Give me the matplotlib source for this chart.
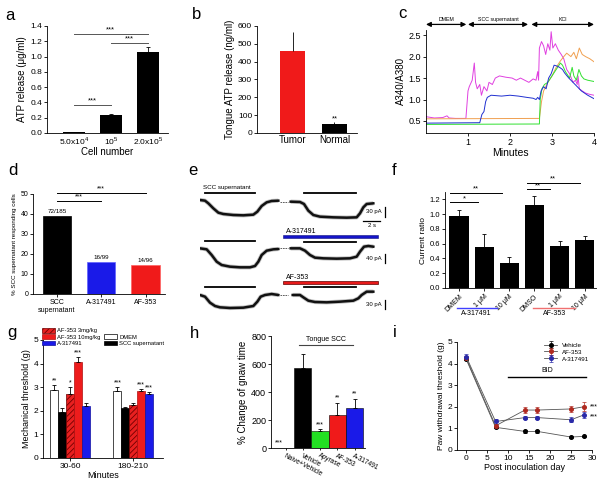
import matplotlib
matplotlib.use('Agg')
import matplotlib.pyplot as plt
from matplotlib.patches import Rectangle, Patch

plt.rcParams['font.family'] = ['Liberation Sans', 'DejaVu Sans']
plt.rcParams['mathtext.fontset'] = 'custom'
plt.rcParams['mathtext.rm'] = 'Liberation Sans'
plt.rcParams['hatch.linewidth'] = 0.6

# ---- a: ATP release vs cell number
a_labels = ['5.0x10$^{4}$', '10$^{5}$', '2.0x10$^{5}$']
a_vals = [0.01, 0.23, 1.06]
a_err = [0.005, 0.02, 0.06]

# ---- b: tongue ATP release
b_labels = ['Tumor', 'Normal']
b_vals = [462, 52]
b_err = [105, 8]

# ---- c: calcium imaging traces (minutes, A340/A380)
c_mag_t = [0, 0.2, 0.4, 0.5, 0.55, 0.7, 0.95, 1.0, 1.03, 1.1, 1.15, 1.18, 1.22, 1.28, 1.32, 1.38,
           1.45, 1.5, 1.58, 1.65, 1.75, 1.9, 2.05, 2.15, 2.25, 2.35, 2.45, 2.55, 2.62, 2.66, 2.68,
           2.7, 2.75, 2.8, 2.85, 2.9, 2.95, 2.98, 3.02, 3.08, 3.15, 3.22, 3.28, 3.35, 3.42, 3.5,
           3.56, 3.6, 3.62, 3.65, 3.72, 3.8, 3.9, 4.0]
c_mag_v = [0.6, 0.57, 0.58, 0.62, 0.57, 0.56, 0.56, 1.2, 1.3, 1.45, 1.85, 1.4, 1.25, 1.35, 1.1, 1.3,
           1.2, 1.4, 1.35, 1.5, 1.55, 1.52, 1.5, 1.45, 1.5, 1.45, 1.4, 1.48, 1.45, 1.65, 1.45,
           2.2, 2.35, 2.25, 2.05, 2.3, 2.15, 2.58, 2.2, 2.3, 2.15, 2.05, 1.95, 1.7, 1.6, 1.4,
           1.45, 1.35, 1.55, 1.25, 1.2, 1.15, 1.12, 1.1]
c_blu_t = [0, 1.28, 1.33, 1.38, 1.42, 1.46, 1.55, 1.8, 2.0, 2.2, 2.4, 2.55, 2.62, 2.66, 2.7, 2.74,
           2.8, 2.86, 2.92, 2.98, 3.05, 3.12, 3.18, 3.25, 3.3, 3.4, 3.55, 3.7, 3.85, 4.0]
c_blu_v = [0.45, 0.46, 0.65, 0.72, 0.95, 1.05, 1.1, 1.08, 1.1, 1.08, 1.05, 1.03, 1.0, 1.05, 1.0, 1.2,
           1.3, 1.25, 1.5, 1.6, 1.8, 1.78, 1.75, 1.7, 1.62, 1.5, 1.35, 1.2, 1.1, 1.02]
c_org_t = [0, 2.7, 2.75, 2.8, 2.9, 3.0, 3.1, 3.2, 3.28, 3.35, 3.45, 3.52, 3.58, 3.65, 3.72, 3.8, 3.9, 4.0]
c_org_v = [0.55, 0.56, 0.95, 1.2, 1.4, 1.55, 1.75, 1.9, 2.0, 2.08, 2.0, 2.1, 1.95, 2.2, 2.05, 2.0, 1.95, 1.88]
c_grn_t = [0, 2.7, 2.72, 2.76, 2.82, 2.9, 3.0, 3.1, 3.2, 3.25, 3.32, 3.42, 3.48, 3.52, 3.58, 3.64,
           3.7, 3.76, 3.85, 4.0]
c_grn_v = [0.42, 0.43, 1.0, 1.25, 1.35, 1.4, 1.55, 1.7, 1.85, 1.8, 1.65, 1.5, 1.75, 1.55, 1.45, 1.7,
           1.55, 1.48, 1.45, 1.42]
c_periods = [('DMEM', 0.0, 0.96), ('SCC supernatant', 1.0, 2.43), ('KCl', 2.51, 4.0)]

# ---- d: % responding cells
d_labels = ['SCC\nsupernatant', 'A-317491', 'AF-353']
d_vals = [38.9, 16.2, 14.6]
d_counts = ['72/185', '16/99', '14/96']

# ---- e: patch clamp traces (trace units, y downward)
e1_left_x = [0, 15, 25, 40, 55, 70, 100, 130, 160, 172, 185, 200, 215, 235]
e1_left_y = [60, 62, 70, 85, 98, 102, 105, 106, 104, 95, 78, 67, 63, 62]
e1_right_x = [272, 300, 312, 325, 340, 360, 400, 440, 470, 480, 490, 500, 520]
e1_right_y = [65, 66, 72, 92, 105, 110, 112, 113, 112, 100, 82, 72, 70]
e2_left_x = [0, 20, 35, 50, 65, 90, 120, 150, 165, 175, 185, 200, 220, 235]
e2_left_y = [205, 208, 225, 245, 255, 260, 262, 262, 258, 245, 225, 212, 208, 207]
e2_right_x = [272, 300, 315, 330, 345, 370, 410, 450, 470, 480, 492, 505, 520]
e2_right_y = [205, 205, 212, 225, 233, 235, 236, 235, 230, 215, 200, 198, 200]
e3_left_x = [0, 15, 30, 45, 60, 90, 130, 160, 172, 182, 195, 215, 235]
e3_left_y = [345, 350, 368, 378, 382, 384, 383, 378, 365, 350, 345, 342, 345]
e3_right_x = [278, 300, 310, 325, 345, 380, 420, 460, 475, 485, 500, 520]
e3_right_y = [345, 345, 352, 362, 366, 367, 365, 362, 355, 345, 335, 335]

# ---- f: current ratio
f_labels = ['DMEM', '1 μM', '10 μM', 'DMSO', '1 μM', '10 μM']
f_vals = [0.98, 0.56, 0.34, 1.13, 0.57, 0.65]
f_err = [0.08, 0.17, 0.08, 0.12, 0.07, 0.06]

# ---- g: mechanical threshold
g_groups = ['30-60', '180-210']
g_series = ['DMEM', 'SCC supernatant', 'AF-353 3mg/kg', 'AF-353 10mg/kg', 'A-317491']
g_vals = [[2.9, 2.85], [1.93, 2.12], [2.73, 2.23], [4.05, 2.82], [2.2, 2.7]]
g_err = [[0.2, 0.15], [0.2, 0.06], [0.27, 0.12], [0.25, 0.1], [0.12, 0.1]]
g_stars = [['**', '***'], ['', ''], ['*', ''], ['***', '***'], ['', '***']]

# ---- h: gnaw time
h_labels = ['Naive+Vehicle', 'Vehicle', 'Apyrase', 'AF-353', 'A-317491']
h_vals = [0, 575, 120, 238, 289]
h_err = [0, 100, 15, 85, 64]
h_stars = ['***', '', '***', '**', '**']

# ---- i: paw withdrawal threshold
i_days = [0, 7, 14, 17, 25, 28]
i_vehicle = [4.2, 1.05, 0.86, 0.86, 0.6, 0.63]
i_vehicle_err = [0.05, 0.05, 0.06, 0.05, 0.03, 0.04]
i_af353 = [4.25, 1.12, 1.85, 1.85, 1.9, 2.0]
i_af353_err = [0.1, 0.08, 0.12, 0.12, 0.15, 0.2]
i_a317 = [4.32, 1.32, 1.5, 1.5, 1.4, 1.62]
i_a317_err = [0.12, 0.12, 0.06, 0.06, 0.12, 0.15]

RED = '#f01a1a'
BLUE = '#1a1ae8'

fig = plt.figure(figsize=(6, 4.84), dpi=100)


def add_ax(l, t, r, b):
    return fig.add_axes([l / 600, 1 - b / 484, (r - l) / 600, (b - t) / 484])


def style(ax, fs=6):
    for s in ['top', 'right']:
        ax.spines[s].set_visible(False)
    for s in ['left', 'bottom']:
        ax.spines[s].set_linewidth(0.6)
    ax.tick_params(labelsize=fs, length=2, width=0.6, pad=1.5)


def sig(ax, x0, x1, y, text, fs=5, color='k', dy=0.0):
    ax.plot([x0, x1], [y, y], color=color, lw=0.7, clip_on=False)
    ax.text((x0 + x1) / 2, y + dy, text, ha='center', va='bottom', fontsize=fs, clip_on=False)


def up_err(ax, x, y, e, color='k', cap=1.5):
    ax.errorbar(x, y, yerr=[[0] * len(e), e], fmt='none', ecolor=color, elinewidth=0.6,
                capsize=cap, capthick=0.6)


for lab, x, y in [('a', 5, 20), ('b', 192, 19), ('c', 398, 18), ('d', 8, 175), ('e', 188, 175),
                  ('f', 392, 175), ('g', 7, 337), ('h', 190, 338), ('i', 393, 337)]:
    fig.text(x / 600, 1 - y / 484, lab, fontsize=12, va='baseline')

# a
ax = add_ax(47, 26, 168, 133)
xa = list(range(len(a_vals)))
ax.bar(xa, a_vals, width=0.6, color='k')
up_err(ax, xa, a_vals, a_err)
ax.set_xlim(-0.73, 2.55)
ax.set_ylim(0, 1.4)
ax.set_yticks([0, 0.2, 0.4, 0.6, 0.8, 1.0, 1.2, 1.4])
ax.set_xticks(xa)
ax.set_xticklabels(a_labels)
style(ax, 6)
ax.tick_params(axis='x', length=0)
ax.set_ylabel('ATP release (μg/ml)', fontsize=7, labelpad=2)
ax.set_xlabel('Cell number', fontsize=7, labelpad=0)
sig(ax, 0, 2, 1.29, '***', fs=5.5, color='#555555', dy=0.01)
sig(ax, 1, 2, 1.18, '***', fs=5.5, color='#555555', dy=0.01)
sig(ax, 0, 1, 0.37, '***', fs=5.5, color='#555555', dy=0.01)

# b
ax = add_ax(257, 26, 357, 133)
xb = [0, 1]
ax.bar(xb, b_vals, width=0.6, color=[RED, 'k'])
up_err(ax, xb, b_vals, b_err, cap=0)
ax.set_xlim(-0.85, 1.54)
ax.set_ylim(0, 600)
ax.set_xticks(xb)
ax.set_xticklabels(b_labels)
style(ax, 6)
ax.tick_params(axis='x', length=0, labelsize=7)
ax.set_ylabel('Tongue ATP release (ng/ml)', fontsize=7, labelpad=2)
ax.text(1, b_vals[1] + b_err[1] + 2, '**', ha='center', va='bottom', fontsize=5.5)

# c
ax = add_ax(426, 30, 594, 133)
ax.plot(c_mag_t, c_mag_v, color='#e040e0', lw=0.7)
ax.plot(c_org_t, c_org_v, color='#f0a050', lw=0.7)
ax.plot(c_grn_t, c_grn_v, color='#30e030', lw=0.7)
ax.plot(c_blu_t, c_blu_v, color='#2030d0', lw=0.7)
ax.set_xlim(0, 4)
ax.set_ylim(0.22, 2.62)
ax.set_xticks([1, 2, 3, 4])
ax.set_yticks([0.5, 1.0, 1.5, 2.0, 2.5])
style(ax, 6.5)
ax.set_xlabel('Minutes', fontsize=7.5, labelpad=1)
ax.set_ylabel('A340/A380', fontsize=7, labelpad=2)
for name, t0, t1 in c_periods:
    ax.annotate('', xy=(t1, 2.75), xytext=(t0, 2.75), annotation_clip=False,
                arrowprops=dict(arrowstyle='<|-|>', color='k', lw=0.9, mutation_scale=7,
                                shrinkA=0, shrinkB=0))
    ax.text((t0 + t1) / 2, 2.8, name, ha='center', va='bottom', fontsize=3.8, clip_on=False)

# d
ax = add_ax(33, 194, 165, 294)
xd = [0, 1, 2]
ax.bar(xd, d_vals, width=0.64, color=['k', BLUE, RED], edgecolor=['k', '#6060ff', '#ff6060'],
       linewidth=0.5)
for x, v, c in zip(xd, d_vals, d_counts):
    ax.text(x, v + 1, c, ha='center', va='bottom', fontsize=4.5)
ax.set_xlim(-0.54, 2.44)
ax.set_ylim(0, 50)
ax.set_xticks(xd)
ax.set_xticklabels(d_labels)
style(ax, 5)
ax.tick_params(axis='x', labelsize=5)
ax.set_ylabel('% SCC supernatant responding cells', fontsize=4.5, labelpad=2)
sig(ax, 0, 2, 50.5, '***', fs=5, dy=0.3)
sig(ax, 0, 1, 46.5, '***', fs=5, dy=0.3)

# e
ax = add_ax(200, 180, 400, 320)
ax.set_xlim(0, 600)
ax.set_ylim(420, 0)
ax.axis('off')
for xs, ys in [(e1_left_x, e1_left_y), (e1_right_x, e1_right_y), (e2_left_x, e2_left_y),
               (e2_right_x, e2_right_y), (e3_left_x, e3_left_y), (e3_right_x, e3_right_y)]:
    ax.plot(xs, ys, color='#999999', lw=3.0, alpha=0.6, solid_capstyle='butt')
    ax.plot(xs, ys, color='#111111', lw=1.8)
for y in [65, 205, 345]:
    ax.plot([240, 265], [y, y], color='#444444', lw=0.6, ls=(0, (2, 1)))
for y in [38, 183, 320]:
    ax.plot([15, 165], [y, y], color='k', lw=1.3)
    ax.plot([312, 467], [y + 2, y + 2], color='k', lw=1.3)
ax.text(10, 22, 'SCC supernatant', fontsize=4.5, va='center')
ax.add_patch(Rectangle((250, 165), 285, 10, facecolor='#1414c8', edgecolor='#101080', lw=0.4))
ax.text(258, 154, 'A-317491', fontsize=5, va='center')
ax.add_patch(Rectangle((250, 303), 285, 10, facecolor='#e81a1a', edgecolor='#600000', lw=0.5))
ax.text(258, 292, 'AF-353', fontsize=5, va='center')
for y0, y1, lab in [(80, 110, '30 pA'), (222, 250, '40 pA'), (360, 388, '30 pA')]:
    ax.plot([555, 555], [y0, y1], color='k', lw=0.9)
    ax.text(545, (y0 + y1) / 2, lab, fontsize=4.3, ha='right', va='center')
ax.plot([490, 540], [122, 122], color='k', lw=0.9)
ax.text(515, 128, '2 s', fontsize=4.3, ha='center', va='top')

# f
ax = add_ax(445, 192, 596, 288)
xf = list(range(len(f_vals)))
ax.bar(xf, f_vals, width=0.77, color='k')
up_err(ax, xf, f_vals, f_err)
ax.set_xlim(-0.56, 5.45)
ax.set_ylim(0, 1.3)
ax.set_yticks([0, 0.2, 0.4, 0.6, 0.8, 1.0, 1.2])
ax.set_xticks(xf)
ax.set_xticklabels(f_labels, rotation=45, ha='right', rotation_mode='anchor')
style(ax, 5.5)
ax.tick_params(axis='x', labelsize=5)
ax.set_ylabel('Current ratio', fontsize=6, labelpad=2)
sig(ax, -0.35, 0.75, 1.16, '*', fs=5.5, dy=0.0)
sig(ax, -0.35, 1.7, 1.29, '**', fs=5.5, dy=0.0)
sig(ax, 2.69, 3.6, 1.335, '**', fs=5.5, dy=0.0)
sig(ax, 2.69, 4.8, 1.425, '**', fs=5.5, dy=0.0)
ax.plot([-0.1, 1.5], [-0.27, -0.27], color='#4040ff', lw=1.0, clip_on=False)
ax.text(0.7, -0.3, 'A-317491', ha='center', va='top', fontsize=5, clip_on=False)
ax.plot([2.95, 4.6], [-0.27, -0.27], color='#f07070', lw=1.0, clip_on=False)
ax.text(3.8, -0.3, 'AF-353', ha='center', va='top', fontsize=5, clip_on=False)

# g
ax = add_ax(43, 340, 163, 458)
w = 0.126
g_faces = ['white', 'k', '#e82020', '#ee1c1c', BLUE]
g_hatch = [None, None, '//////', None, None]
g_edges = ['k', 'k', '#700000', '#b01010', '#1010a0']
for k in range(len(g_series)):
    xs = [gi + (k - 2) * w for gi in range(len(g_groups))]
    ax.bar(xs, g_vals[k], width=w, color=g_faces[k], edgecolor=g_edges[k], hatch=g_hatch[k],
           linewidth=0.5, label=g_series[k])
    up_err(ax, xs, g_vals[k], g_err[k], cap=1.2)
    for x, v, e, s in zip(xs, g_vals[k], g_err[k], g_stars[k]):
        if s:
            ax.text(x, v + e + 0.02, s, ha='center', va='bottom', fontsize=5)
ax.set_xlim(-0.43, 1.47)
ax.set_ylim(0, 5)
ax.set_xticks([0, 1])
ax.set_xticklabels(g_groups)
style(ax, 6)
ax.set_xlabel('Minutes', fontsize=6.5, labelpad=1)
ax.set_ylabel('Mechanical threshold (g)', fontsize=6.5, labelpad=2)
handles = [Patch(facecolor='#e82020', edgecolor='#700000', hatch='//////', lw=0.5),
           Patch(facecolor='#ee1c1c', edgecolor='#b01010', lw=0.5),
           Patch(facecolor=BLUE, edgecolor='#1010a0', lw=0.5),
           Patch(visible=False),
           Patch(facecolor='white', edgecolor='k', lw=0.5),
           Patch(facecolor='k', edgecolor='k', lw=0.5)]
labels = ['AF-353 3mg/kg', 'AF-353 10mg/kg', 'A-317491', '', 'DMEM', 'SCC supernatant']
fig.legend(handles, labels, ncol=2, loc='upper left', bbox_to_anchor=(42 / 600, 1 - 328 / 484),
           frameon=False, fontsize=4.2, handlelength=2.2, handleheight=0.9, labelspacing=0.15,
           columnspacing=0.6, handletextpad=0.4, borderpad=0, borderaxespad=0)

# h
ax = add_ax(271, 336, 365, 448)
xh = list(range(len(h_vals)))
ax.bar(xh, h_vals, width=1.0, color=['k', 'k', '#22e022', RED, BLUE], edgecolor='k', linewidth=0.4)
up_err(ax, xh[1:], h_vals[1:], h_err[1:], cap=1.5)
for x, v, e, s in zip(xh, h_vals, h_err, h_stars):
    if s:
        ax.text(x - (0.4 if x == 0 else 0), v + e + 8, s, ha='center', va='bottom', fontsize=5)
ax.set_xlim(-0.84, 4.6)
ax.set_ylim(0, 800)
ax.set_yticks([0, 200, 400, 600, 800])
ax.set_xticks(xh)
ax.set_xticklabels(h_labels, rotation=-27, ha='left', rotation_mode='anchor')
style(ax, 6.5)
ax.tick_params(axis='x', labelsize=4.8, length=1.5)
ax.set_ylabel('% Change of gnaw time', fontsize=7, labelpad=2)
ax.plot([0.8, 3.9], [736, 736], color='#444444', lw=0.8)
ax.text(2.35, 750, 'Tongue SCC', ha='center', va='bottom', fontsize=5)

# i
ax = add_ax(457, 342, 592, 450)
for vals, errs, col, lab in [(i_vehicle, i_vehicle_err, 'k', 'Vehicle'),
                             (i_af353, i_af353_err, '#b02a20', 'AF-353'),
                             (i_a317, i_a317_err, '#2a2aa8', 'A-317491')]:
    ax.errorbar(i_days, vals, yerr=errs, color='#555555', lw=0.6, marker='o', ms=2.6,
                mfc=col, mec=col, ecolor=col, elinewidth=0.5, capsize=1.2, capthick=0.5, label=lab)
ax.set_xlim(-2.2, 30)
ax.set_ylim(0, 5)
ax.set_xticks([0, 5, 10, 15, 20, 25, 30])
ax.set_yticks([0, 1, 2, 3, 4, 5])
style(ax, 6)
ax.set_xlabel('Post inoculation day', fontsize=6.5, labelpad=1)
ax.set_ylabel('Paw withdrawal threshold (g)', fontsize=6, labelpad=2)
ax.plot([10, 28.5], [3.38, 3.38], color='k', lw=1.0)
ax.text(19.3, 3.5, 'BID', ha='center', va='bottom', fontsize=5)
ax.text(29.4, i_af353[-1], '***', ha='left', va='center', fontsize=5, clip_on=False)
ax.text(29.4, i_a317[-1] - 0.1, '***', ha='left', va='center', fontsize=5, clip_on=False)
ax.legend(loc='upper right', bbox_to_anchor=(1.0, 1.02), frameon=False, fontsize=4.5,
          handlelength=2.2, labelspacing=0.25, borderaxespad=0)

fig.savefig('out.png', dpi=100)
